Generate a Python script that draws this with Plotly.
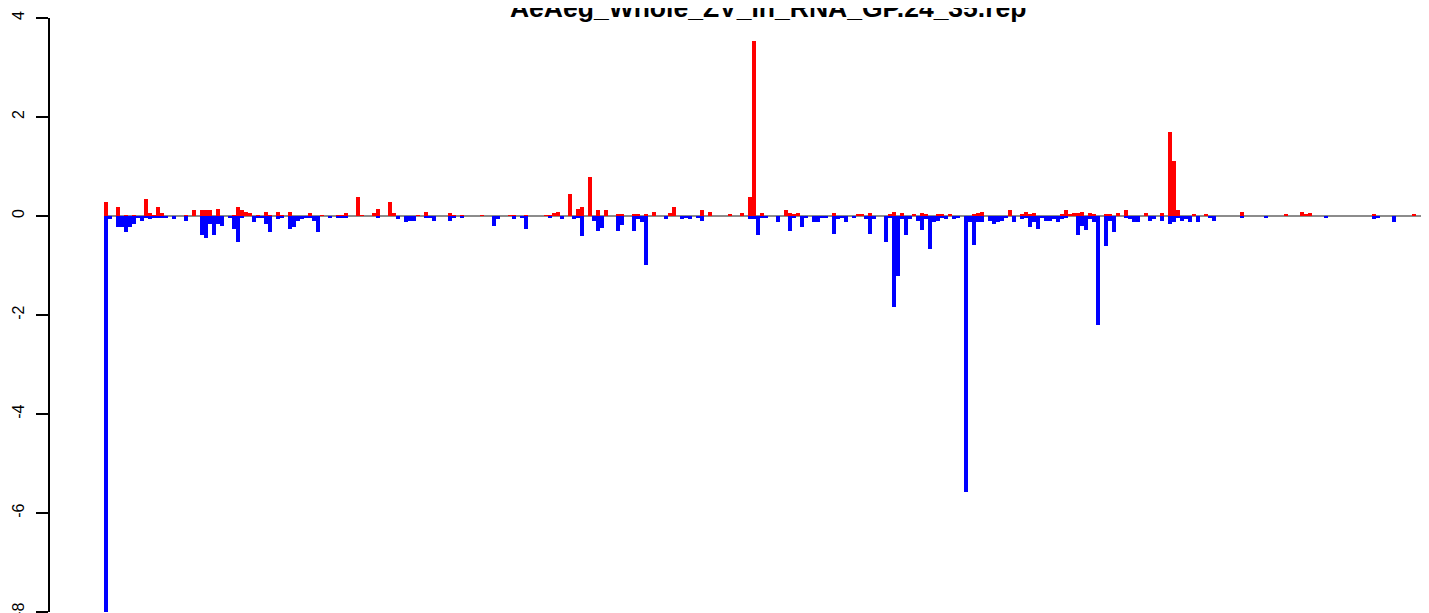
import plotly.graph_objects as go

title_text = "AeAeg_Whole_ZV_In_RNA_GP.24_35.rep"

# positions (bin index along the genome) and heights of the positive (red) bars
pos_bins = [0, 3, 5, 7, 10, 11, 12, 13, 14, 20, 22, 24, 25, 26, 28, 32, 33, 34, 35, 36,
            38, 40, 41, 43, 44, 46, 51, 54, 58, 59, 60, 63, 64, 67, 68, 71, 72, 78, 80, 86,
            87, 89, 94, 101, 102, 105, 110, 111, 112, 113, 116, 118, 119, 121, 123, 125, 128, 129, 132, 133,
            135, 137, 141, 142, 149, 151, 156, 159, 161, 162, 164, 170, 171, 172, 173, 182, 188, 189, 191, 196,
            197, 199, 202, 204, 205, 208, 209, 211, 217, 218, 219, 226, 229, 230, 231, 232, 239, 240, 241, 242,
            243, 244, 246, 247, 250, 251, 253, 255, 260, 264, 266, 267, 268, 272, 275, 284, 295, 299, 300, 301,
            317, 327]
pos_vals = [0.28, 0.18, 0.02, 0.02, 0.34, 0.06, 0.02, 0.18, 0.06, 0.02, 0.12, 0.12, 0.12, 0.12, 0.14, 0.02, 0.18, 0.12, 0.08, 0.06,
            0.02, 0.08, 0.02, 0.08, 0.02, 0.08, 0.06, 0.02, 0.02, 0.02, 0.06, 0.39, 0.02, 0.06, 0.15, 0.29, 0.06, 0.02, 0.09, 0.06,
            0.02, 0.02, 0.02, 0.02, 0.02, 0.02, 0.02, 0.02, 0.06, 0.09, 0.45, 0.15, 0.19, 0.79, 0.13, 0.13, 0.03, 0.03, 0.03, 0.03,
            0.03, 0.09, 0.07, 0.19, 0.13, 0.09, 0.03, 0.07, 0.39, 3.53, 0.07, 0.13, 0.07, 0.03, 0.07, 0.07, 0.03, 0.03, 0.07, 0.03,
            0.09, 0.07, 0.03, 0.07, 0.03, 0.03, 0.03, 0.03, 0.03, 0.07, 0.09, 0.13, 0.03, 0.09, 0.03, 0.07, 0.03, 0.13, 0.03, 0.07,
            0.07, 0.09, 0.07, 0.03, 0.03, 0.03, 0.07, 0.13, 0.07, 0.07, 1.70, 1.12, 0.13, 0.03, 0.03, 0.09, 0.03, 0.09, 0.03, 0.07,
            0.03, 0.03]

# positions and heights of the negative (blue) bars
neg_bins = [0, 1, 3, 4, 5, 6, 7, 8, 9, 10, 11, 12, 13, 14, 15, 17, 20, 24, 25, 26,
            27, 28, 29, 31, 32, 33, 34, 37, 38, 39, 40, 41, 43, 44, 46, 47, 48, 49, 50, 51,
            52, 53, 56, 58, 59, 60, 68, 73, 75, 76, 77, 80, 81, 82, 86, 87, 89, 97, 98, 102,
            104, 105, 111, 114, 117, 118, 119, 122, 123, 124, 128, 129, 132, 133, 134, 135, 140, 144, 145, 146,
            148, 149, 161, 162, 163, 164, 165, 168, 171, 172, 174, 175, 177, 178, 179, 180, 182, 183, 184, 185,
            187, 190, 191, 192, 195, 196, 197, 198, 199, 200, 201, 203, 204, 205, 206, 207, 208, 209, 210, 212,
            213, 215, 216, 217, 218, 219, 221, 222, 223, 224, 225, 227, 229, 230, 231, 232, 233, 234, 235, 236,
            237, 238, 239, 240, 243, 244, 245, 246, 247, 248, 250, 251, 252, 255, 256, 257, 258, 261, 262, 264,
            266, 267, 268, 269, 270, 271, 273, 276, 277, 284, 290, 305, 317, 318, 322]
neg_vals = [-8.0, -0.07, -0.23, -0.23, -0.33, -0.23, -0.17, -0.03, -0.10, -0.03, -0.07, -0.05, -0.05, -0.05, -0.05, -0.07, -0.10, -0.39, -0.45, -0.17,
            -0.39, -0.17, -0.21, -0.05, -0.27, -0.53, -0.05, -0.13, -0.05, -0.05, -0.17, -0.33, -0.07, -0.05, -0.27, -0.23, -0.10, -0.07, -0.05, -0.05,
            -0.10, -0.33, -0.05, -0.05, -0.05, -0.05, -0.05, -0.07, -0.13, -0.11, -0.11, -0.05, -0.05, -0.11, -0.11, -0.05, -0.05, -0.21, -0.07, -0.07,
            -0.05, -0.27, -0.05, -0.07, -0.07, -0.05, -0.40, -0.11, -0.30, -0.24, -0.30, -0.18, -0.30, -0.07, -0.13, -0.98, -0.07, -0.07, -0.05, -0.07,
            -0.05, -0.11, -0.07, -0.07, -0.38, -0.05, -0.05, -0.13, -0.30, -0.05, -0.22, -0.05, -0.13, -0.13, -0.05, -0.05, -0.37, -0.07, -0.03, -0.13,
            -0.05, -0.07, -0.37, -0.07, -0.53, -0.03, -1.84, -1.22, -0.07, -0.39, -0.07, -0.11, -0.29, -0.07, -0.67, -0.13, -0.11, -0.05, -0.07, -0.07,
            -0.05, -5.57, -0.13, -0.59, -0.13, -0.13, -0.11, -0.17, -0.13, -0.11, -0.05, -0.13, -0.07, -0.05, -0.23, -0.13, -0.27, -0.05, -0.11, -0.11,
            -0.07, -0.13, -0.07, -0.05, -0.39, -0.21, -0.29, -0.07, -0.13, -2.20, -0.61, -0.11, -0.33, -0.05, -0.07, -0.13, -0.13, -0.11, -0.07, -0.11,
            -0.17, -0.13, -0.05, -0.11, -0.07, -0.13, -0.13, -0.05, -0.11, -0.05, -0.05, -0.05, -0.07, -0.05, -0.13]

n_bins = 337
y_ticks = [-8, -6, -4, -2, 0, 2, 4]

fig = go.Figure()
fig.add_trace(go.Bar(x=pos_bins, y=pos_vals, width=1, marker=dict(color="#ff0000", line=dict(width=0)),
                     showlegend=False))
fig.add_trace(go.Bar(x=neg_bins, y=neg_vals, width=1, marker=dict(color="#0000ff", line=dict(width=0)),
                     showlegend=False))

# grey baseline under the bars
fig.add_shape(type="line", xref="x", yref="y", x0=-0.5, x1=n_bins - 0.5, y0=0, y1=0,
              line=dict(color="#8c8c8c", width=2), layer="below")

# the page body adds an 8px offset, margins below account for it
fig.update_layout(
    width=1429, height=613,
    margin=dict(l=42, r=8, t=10, b=9),
    barmode="overlay", bargap=0,
    plot_bgcolor="white", paper_bgcolor="white",
    font=dict(family="Liberation Sans, Arial, sans-serif", color="black"),
    title=dict(text=f"<b>{title_text}</b>", font=dict(size=26.5, color="black"),
               xref="container", x=0.532, xanchor="center",
               yref="container", y=1 - 9 / 613, yanchor="bottom"),
    xaxis=dict(visible=False, range=[-14, 330.75], automargin=False),
    yaxis=dict(range=[-8, 4], tickvals=y_ticks, ticktext=[str(v) for v in y_ticks],
               tickangle=-90, ticks="outside", ticklen=12, tickwidth=1.5, tickcolor="black",
               showline=True, linecolor="black", linewidth=1.5, automargin=False,
               showgrid=False, zeroline=False, tickfont=dict(size=16),
               ticklabelstandoff=6),
)

fig.write_html("out.html")
